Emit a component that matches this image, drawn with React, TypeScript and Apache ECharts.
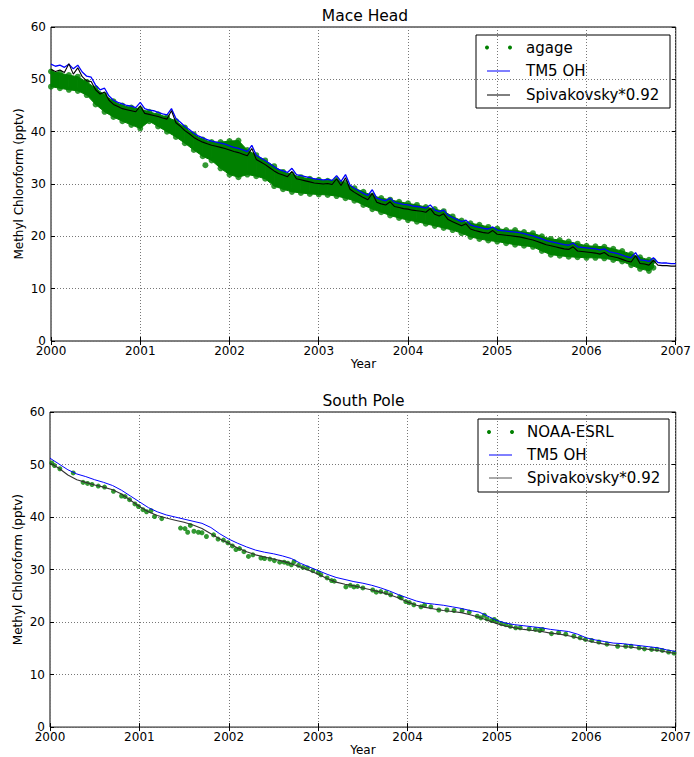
import React, { useEffect, useRef } from 'react';
import * as echarts from 'echarts';

const FONT = 'DejaVu Sans';

// ---------- Mace Head (top) ----------
const TOP_T = [
  2000.00,2000.05,2000.10,2000.15,2000.20,2000.25,2000.30,2000.35,2000.40,2000.45,2000.50,2000.55,2000.60,2000.65,2000.70,2000.75,2000.80,2000.85,2000.90,2000.95,
  2001.00,2001.05,2001.10,2001.15,2001.20,2001.25,2001.30,2001.35,2001.40,2001.45,2001.50,2001.55,2001.60,2001.65,2001.70,2001.75,2001.80,2001.85,2001.90,2001.95,
  2002.00,2002.05,2002.10,2002.15,2002.20,2002.25,2002.30,2002.35,2002.40,2002.45,2002.50,2002.55,2002.60,2002.65,2002.70,2002.75,2002.80,2002.85,2002.90,2002.95,
  2003.00,2003.05,2003.10,2003.15,2003.20,2003.25,2003.30,2003.35,2003.40,2003.45,2003.50,2003.55,2003.60,2003.65,2003.70,2003.75,2003.80,2003.85,2003.90,2003.95,
  2004.00,2004.05,2004.10,2004.15,2004.20,2004.25,2004.30,2004.35,2004.40,2004.45,2004.50,2004.55,2004.60,2004.65,2004.70,2004.75,2004.80,2004.85,2004.90,2004.95,
  2005.00,2005.05,2005.10,2005.15,2005.20,2005.25,2005.30,2005.35,2005.40,2005.45,2005.50,2005.55,2005.60,2005.65,2005.70,2005.75,2005.80,2005.85,2005.90,2005.95,
  2006.00,2006.05,2006.10,2006.15,2006.20,2006.25,2006.30,2006.35,2006.40,2006.45,2006.50,2006.55,2006.60,2006.65,2006.70,2006.75,2006.80,2006.85,2006.90,2006.95,
  2007.00,
];
const TOP_TM5 = [
  52.9,52.5,52.7,52.3,52.9,52.0,52.7,51.4,50.6,50.4,48.9,48.0,48.3,46.8,46.0,45.6,45.3,45.0,44.9,44.6,
  45.6,44.4,44.1,44.0,43.7,43.4,43.2,44.4,42.5,41.8,41.0,40.4,39.7,39.2,38.8,38.5,38.2,38.0,37.8,37.6,
  37.3,37.0,36.8,36.5,36.2,37.4,35.5,35.0,34.5,33.9,33.3,32.8,32.5,32.2,33.0,31.8,31.6,31.4,31.2,31.0,
  30.9,30.8,30.9,30.7,31.6,30.5,31.8,29.8,29.2,28.7,28.2,27.8,28.9,27.3,27.0,26.8,27.3,26.5,26.3,26.1,
  26.0,25.8,25.7,25.6,25.4,26.0,25.0,24.7,25.0,24.0,23.6,23.2,22.8,23.1,22.2,21.9,21.7,21.5,21.4,21.8,
  21.2,21.1,21.0,20.9,20.8,20.7,20.5,20.3,20.1,19.8,19.5,19.2,19.0,18.8,18.6,18.4,18.3,18.7,18.0,17.9,
  17.8,17.7,17.6,17.4,17.6,17.1,16.9,16.7,16.4,16.1,15.9,16.9,15.5,15.4,15.2,15.9,15.0,14.9,14.9,14.8,
  14.8,
];
const TOP_SPIV = [
  51.9,51.5,51.8,51.3,53.0,51.0,52.2,50.5,49.7,49.6,48.0,47.2,47.6,46.0,45.2,44.8,44.4,44.2,44.0,43.8,
  44.9,43.5,43.3,43.1,42.9,42.6,42.4,44.0,41.7,41.0,40.2,39.6,38.9,38.4,38.0,37.7,37.4,37.2,37.0,36.8,
  36.5,36.2,36.0,35.7,35.4,36.8,34.7,34.2,33.7,33.1,32.5,32.0,31.7,31.4,32.4,31.0,30.8,30.6,30.4,30.2,
  30.1,30.0,30.1,29.9,31.0,29.7,31.2,29.0,28.4,27.9,27.4,27.0,28.2,26.5,26.2,26.0,26.6,25.7,25.5,25.3,
  25.2,25.0,24.9,24.8,24.6,25.3,24.2,23.9,24.3,23.2,22.8,22.4,22.0,22.4,21.4,21.1,20.9,20.7,20.6,21.1,
  20.4,20.3,20.2,20.1,20.0,19.9,19.7,19.5,19.3,19.0,18.7,18.4,18.2,18.0,17.8,17.6,17.5,18.0,17.2,17.1,
  17.0,16.9,16.8,16.6,16.9,16.3,16.1,15.9,15.6,15.3,15.1,16.3,14.8,14.7,14.5,15.4,14.5,14.4,14.4,14.3,
  14.3,
];
const AG_T = [
  2000.0,2000.1,2000.2,2000.3,2000.4,2000.5,2000.6,2000.7,2000.8,2000.9,
  2001.0,2001.1,2001.2,2001.3,2001.4,2001.5,2001.6,2001.7,2001.8,2001.9,
  2002.0,2002.1,2002.2,2002.3,2002.4,2002.5,2002.6,2002.7,2002.8,2002.9,
  2003.0,2003.1,2003.2,2003.3,2003.4,2003.5,2003.6,2003.7,2003.8,2003.9,
  2004.0,2004.1,2004.2,2004.3,2004.4,2004.5,2004.6,2004.7,2004.8,2004.9,
  2005.0,2005.1,2005.2,2005.3,2005.4,2005.5,2005.6,2005.7,2005.8,2005.9,
  2006.0,2006.1,2006.2,2006.3,2006.4,2006.5,2006.6,2006.7,2006.75,
];
const AG_HI = [
  51.5,51.2,50.8,50.5,49.5,48.3,47.0,45.8,45.0,44.6,
  44.3,43.8,43.3,42.8,42.0,40.8,39.5,38.5,38.0,38.0,
  38.2,38.3,36.5,35.5,34.5,33.4,32.3,31.8,31.3,31.0,
  30.8,30.6,30.8,30.2,29.2,28.5,27.8,27.3,27.0,26.6,
  26.3,26.0,25.6,25.2,24.8,23.8,23.0,22.5,22.2,21.8,
  21.5,21.2,21.2,20.8,20.6,20.0,19.5,19.3,19.0,18.6,
  18.2,18.1,18.0,17.6,17.2,16.6,16.0,15.5,15.3,
];
const AG_LO = [
  48.6,48.3,48.0,47.8,47.0,45.2,43.8,42.8,42.0,41.3,
  40.6,42.0,41.0,40.0,39.0,37.8,36.5,35.3,34.5,33.0,
  31.8,31.3,31.8,31.5,31.0,29.6,29.0,28.5,28.3,28.1,
  28.0,27.9,27.7,27.3,26.8,26.0,25.2,24.6,24.0,23.5,
  23.1,22.8,22.4,22.0,21.6,21.2,20.6,19.9,19.5,19.2,
  19.0,18.7,18.4,18.2,18.0,17.2,16.5,16.3,16.1,16.0,
  15.9,15.9,15.8,15.5,15.2,14.5,13.8,13.4,14.0,
];
const AG_OUT_T = [2001.73];
const AG_OUT_V = [33.6];

// ---------- South Pole (bottom) ----------
const BOT_T = [
  2000.0,2000.1,2000.2,2000.3,2000.4,2000.5,2000.6,2000.7,2000.8,2000.9,
  2001.0,2001.1,2001.2,2001.3,2001.4,2001.5,2001.6,2001.7,2001.8,2001.9,
  2002.0,2002.1,2002.2,2002.3,2002.4,2002.5,2002.6,2002.7,2002.8,2002.9,
  2003.0,2003.1,2003.2,2003.3,2003.4,2003.5,2003.6,2003.7,2003.8,2003.9,
  2004.0,2004.1,2004.2,2004.3,2004.4,2004.5,2004.6,2004.7,2004.8,2004.9,
  2005.0,2005.1,2005.2,2005.3,2005.4,2005.5,2005.6,2005.7,2005.8,2005.9,
  2006.0,2006.1,2006.2,2006.3,2006.4,2006.5,2006.6,2006.7,2006.8,2006.9,
  2007.0,
];
const BOT_TM5 = [
  51.2,50.1,49.0,48.2,47.7,47.1,46.6,46.0,45.1,44.0,
  42.9,41.8,41.0,40.4,40.0,39.6,39.2,38.8,38.0,36.8,
  35.8,35.0,34.3,33.7,33.3,33.0,32.6,32.1,31.2,30.5,
  29.8,29.1,28.5,28.1,27.7,27.4,27.0,26.5,25.9,25.2,
  24.6,24.0,23.6,23.4,23.2,22.9,22.6,22.2,21.9,21.1,
  20.3,19.8,19.5,19.3,19.1,18.9,18.6,18.4,18.2,17.7,
  17.0,16.6,16.3,16.0,15.9,15.7,15.5,15.3,15.1,14.7,
  14.4,
];
const BOT_SPIV = [
  50.3,49.3,48.0,47.1,46.6,46.1,45.7,45.2,44.4,43.2,
  42.0,41.0,40.3,39.8,39.4,39.0,38.5,37.8,36.8,35.8,
  35.0,34.1,33.4,32.8,32.4,32.0,31.6,31.1,30.5,29.8,
  29.1,28.3,27.6,27.2,26.9,26.5,26.1,25.7,25.2,24.6,
  23.8,23.2,22.8,22.5,22.2,22.0,21.8,21.4,20.9,20.3,
  19.7,19.2,18.9,18.6,18.4,18.2,17.9,17.7,17.4,17.0,
  16.5,16.1,15.8,15.6,15.4,15.2,15.0,14.8,14.6,14.3,
  14.0,
];
const NOAA_T = [
  2000.02,2000.05,2000.11,2000.26,2000.37,2000.42,2000.47,2000.54,2000.61,2000.71,
  2000.80,2000.84,2000.89,2000.95,2000.99,2001.04,2001.08,2001.13,2001.17,2001.25,
  2001.46,2001.51,2001.54,2001.57,2001.61,2001.66,2001.70,2001.75,2001.83,2001.88,
  2001.94,2001.99,2002.04,2002.08,2002.12,2002.17,2002.22,2002.27,2002.36,2002.40,
  2002.46,2002.51,2002.57,2002.62,2002.66,2002.70,2002.73,2002.78,2002.83,2002.88,
  2002.94,2003.00,2003.03,2003.10,2003.15,2003.18,2003.31,2003.36,2003.40,2003.44,
  2003.50,
  2003.61,2003.65,2003.70,2003.76,2003.81,2003.91,2003.93,2003.98,2004.02,2004.07,
  2004.15,2004.19,2004.26,2004.35,2004.44,2004.52,2004.61,2004.69,2004.78,2004.82,
  2004.86,2004.89,2004.94,2004.97,2005.00,2005.05,2005.10,2005.15,2005.21,2005.26,
  2005.36,2005.43,2005.48,2005.51,2005.61,2005.69,2005.77,2005.86,2005.93,2005.99,
  2006.06,2006.14,2006.23,2006.35,2006.44,2006.50,2006.59,2006.65,2006.73,2006.79,
  2006.85,2006.92,2006.98,
];
const NOAA_V = [
  50.3,49.8,49.2,48.4,46.6,46.4,46.2,45.9,45.7,44.9,
  44.0,43.9,43.3,42.5,42.0,41.4,41.0,41.2,40.1,39.7,
  37.9,37.8,37.1,38.4,37.3,37.1,37.0,36.3,36.6,35.8,
  35.6,35.1,34.5,33.8,34.0,33.4,32.5,32.8,32.2,32.1,
  32.0,31.7,31.4,31.4,31.2,30.9,31.5,30.8,30.4,30.3,
  29.8,29.4,29.0,28.4,27.9,27.8,26.7,27.0,26.7,26.8,
  26.5,
  26.1,25.7,25.8,25.6,25.2,24.8,24.6,23.9,23.7,23.3,
  22.9,23.2,22.9,22.3,22.3,22.2,22.2,21.9,21.1,20.8,
  21.3,20.6,20.3,20.5,20.1,19.7,19.5,19.2,18.9,18.9,
  18.7,18.6,18.4,18.6,17.8,18.0,17.7,17.3,17.0,16.7,
  16.5,16.2,15.8,15.4,15.4,15.4,15.1,14.9,14.8,14.8,
  14.6,14.3,14.1,
];

const X_TICKS = { min: 2000, max: 2007, interval: 1 };
const Y_TICKS = { min: 0, max: 60, interval: 10 };

const GREEN = '#008000';
const BLUE = '#0000ff';

function pairs(t: number[], v: number[]) {
  return t.map((x, i) => [x, v[i]]);
}

const tickStyle = { inside: true, length: 4, lineStyle: { color: '#000', width: 1 } };
const gridLine = { show: true, lineStyle: { color: '#777', type: [1, 2], width: 1 } };
const labelStyle = { fontFamily: FONT, fontSize: 12, color: '#000' };

function xMain(gi: number) {
  return {
    type: 'value', gridIndex: gi, ...X_TICKS,
    name: 'Year', nameLocation: 'middle', nameGap: 16,
    nameTextStyle: { ...labelStyle },
    axisLine: { show: false }, axisTick: tickStyle,
    axisLabel: { ...labelStyle, margin: 4, formatter: (v: number) => String(v) },
    splitLine: gridLine,
  };
}
function xMirror(gi: number) {
  return {
    type: 'value', gridIndex: gi, position: 'top', ...X_TICKS,
    axisLine: { show: false }, axisTick: tickStyle,
    axisLabel: { show: false }, splitLine: { show: false },
  };
}
function yMain(gi: number) {
  return {
    type: 'value', gridIndex: gi, ...Y_TICKS,
    name: 'Methyl Chloroform (pptv)', nameLocation: 'middle', nameGap: 26, nameRotate: 90,
    nameMoveOverlap: false,
    nameTextStyle: { ...labelStyle },
    axisLine: { show: false }, axisTick: tickStyle,
    axisLabel: { ...labelStyle, margin: 5 },
    splitLine: gridLine,
  };
}
function yMirror(gi: number) {
  return {
    type: 'value', gridIndex: gi, position: 'right', ...Y_TICKS,
    axisLine: { show: false }, axisTick: tickStyle,
    axisLabel: { show: false }, splitLine: { show: false },
  };
}

function legendBox(x: number, y: number, w: number, h: number, rows: number[], dotX: number[], textX: number,
  names: string[], spivColor: string) {
  const children: any[] = [
    { type: 'rect', shape: { x, y, width: w, height: h }, style: { fill: '#fff', stroke: '#000', lineWidth: 1 } },
    { type: 'circle', shape: { cx: dotX[0], cy: rows[0], r: 2 }, style: { fill: GREEN } },
    { type: 'circle', shape: { cx: dotX[1], cy: rows[0], r: 2 }, style: { fill: GREEN } },
    { type: 'line', shape: { x1: dotX[0], y1: rows[1], x2: dotX[1], y2: rows[1] }, style: { stroke: BLUE, lineWidth: 1 } },
    { type: 'line', shape: { x1: dotX[0], y1: rows[2], x2: dotX[1], y2: rows[2] }, style: { stroke: spivColor, lineWidth: 1 } },
  ];
  names.forEach((n, i) => {
    children.push({
      type: 'text', x: textX, y: rows[i],
      style: { text: n, fontFamily: FONT, fontSize: 15, fill: '#000', verticalAlign: 'middle', align: 'left' },
    });
  });
  return { type: 'group', children, z: 100 };
}

export default function App() {
  const ref = useRef<HTMLDivElement>(null);
  useEffect(() => {
    const chart = echarts.init(ref.current!, null, { renderer: 'svg' });
    const bandSegs: number[][] = [];
    for (let i = 0; i < AG_T.length - 1; i++) {
      bandSegs.push([AG_T[i], AG_LO[i], AG_HI[i], AG_T[i + 1], AG_LO[i + 1], AG_HI[i + 1]]);
    }
    const agDots = [...pairs(AG_T, AG_HI), ...pairs(AG_T, AG_LO), ...pairs(AG_OUT_T, AG_OUT_V)];

    const option: any = {
      animation: false,
      backgroundColor: '#fff',
      textStyle: { fontFamily: FONT },
      grid: [
        { left: 51, top: 27, width: 628, height: 314, show: true, borderColor: '#000', borderWidth: 1, backgroundColor: 'transparent' },
        { left: 50, top: 412, width: 627, height: 317, show: true, borderColor: '#000', borderWidth: 1, backgroundColor: 'transparent' },
      ],
      xAxis: [xMain(0), xMirror(0), xMain(1), xMirror(1)],
      yAxis: [yMain(0), yMirror(0), yMain(1), yMirror(1)],
      series: [
        {
          type: 'custom', name: 'agage band', xAxisIndex: 0, yAxisIndex: 0, silent: true,
          encode: { x: [0, 3], y: [1, 2, 4, 5] },
          data: bandSegs,
          renderItem: (params: any, api: any) => {
            const a = api.coord([api.value(0), api.value(2)]);
            const b = api.coord([api.value(3), api.value(5)]);
            const c = api.coord([api.value(3), api.value(4)]);
            const d = api.coord([api.value(0), api.value(1)]);
            return { type: 'polygon', shape: { points: [a, b, c, d] }, style: { fill: GREEN, stroke: GREEN, lineWidth: 1 } };
          },
        },
        {
          type: 'scatter', name: 'agage', xAxisIndex: 0, yAxisIndex: 0, silent: true,
          symbol: 'circle', symbolSize: 6, itemStyle: { color: GREEN }, data: agDots,
        },
        {
          type: 'line', name: 'TM5 OH', xAxisIndex: 0, yAxisIndex: 0, silent: true, showSymbol: false,
          lineStyle: { color: BLUE, width: 1.3 }, data: pairs(TOP_T, TOP_TM5),
        },
        {
          type: 'line', name: 'Spivakovsky*0.92', xAxisIndex: 0, yAxisIndex: 0, silent: true, showSymbol: false,
          lineStyle: { color: '#000', width: 1.1 }, data: pairs(TOP_T, TOP_SPIV),
        },
        {
          type: 'scatter', name: 'NOAA-ESRL', xAxisIndex: 2, yAxisIndex: 2, silent: true,
          symbol: 'circle', symbolSize: 5, itemStyle: { color: GREEN }, data: pairs(NOAA_T, NOAA_V),
        },
        {
          type: 'line', name: 'TM5 OH', xAxisIndex: 2, yAxisIndex: 2, silent: true, showSymbol: false,
          lineStyle: { color: BLUE, width: 1 }, data: pairs(BOT_T, BOT_TM5),
        },
        {
          type: 'line', name: 'Spivakovsky*0.92', xAxisIndex: 2, yAxisIndex: 2, silent: true, showSymbol: false,
          lineStyle: { color: '#333', width: 1.1 }, data: pairs(BOT_T, BOT_SPIV),
        },
      ],
      graphic: [
        { type: 'text', x: 365, y: 16, style: { text: 'Mace Head', fontFamily: FONT, fontSize: 15.5, fill: '#000', align: 'center', verticalAlign: 'middle' } },
        { type: 'text', x: 363.5, y: 401, style: { text: 'South Pole', fontFamily: FONT, fontSize: 15.5, fill: '#000', align: 'center', verticalAlign: 'middle' } },
        legendBox(476, 35, 194, 73, [47.5, 71, 95], [487, 510], 526, ['agage', 'TM5 OH', 'Spivakovsky*0.92'], '#000'),
        legendBox(478, 419, 191, 73, [432, 455, 478], [489, 512], 527, ['NOAA-ESRL', 'TM5 OH', 'Spivakovsky*0.92'], '#555'),
      ],
    };
    chart.setOption(option);
    return () => chart.dispose();
  }, []);
  return <div ref={ref} style={{ position: 'absolute', left: 0, top: 0, width: 694, height: 757 }} />;
}
